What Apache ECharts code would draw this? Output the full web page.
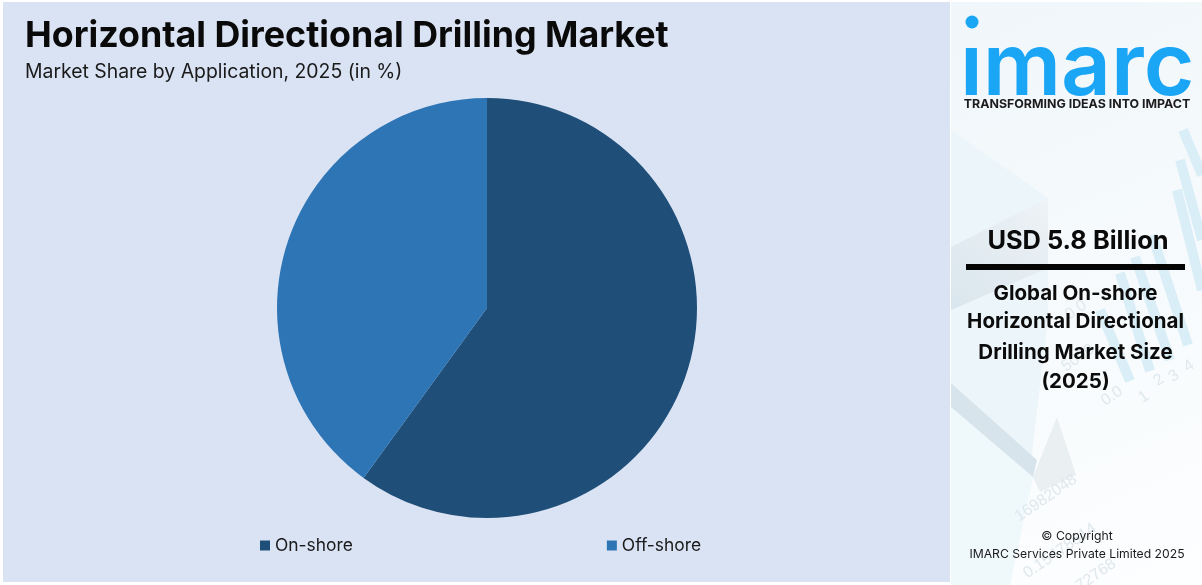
<!DOCTYPE html>
<html>
<head>
<meta charset="utf-8">
<title>Horizontal Directional Drilling Market</title>
<style>
  html, body { margin: 0; padding: 0; background: #fff; }
  #main { width: 1202px; height: 585px; }
</style>
<script src="https://cdn.jsdelivr.net/npm/echarts@6/dist/echarts.min.js"></script>
</head>
<body>
<div id="main"></div>
<script>
var categories = ['On-shore', 'Off-shore'];
var shares = [60, 40];
var colors = ['#1f4e79', '#2e75b6'];

var titleText = 'Horizontal Directional Drilling Market';
var subtitleText = 'Market Share by Application, 2025 (in %)';
var sideValue = 'USD 5.8 Billion';
var sideLines = ['Global On-shore', 'Horizontal Directional', 'Drilling Market Size', '(2025)'];
var sideLineY = [293, 321, 352, 381];
var copyLines = ['© Copyright', 'IMARC Services Private Limited 2025'];
var copyLineY = [536, 554];

var chart = echarts.init(document.getElementById('main'));

// faint picture behind the side panel: slanted bars and washed out numbers
var deco = [];
[[1130, 381, 1100, 310], [1150, 371, 1120, 273], [1170, 360, 1135, 257], [1188, 345, 1152, 235], [1202, 290, 1177, 190], [1202, 240, 1180, 160], [1202, 175, 1183, 130]].forEach(function (b) {
  deco.push({
    type: 'line', z: 1,
    shape: { x1: b[0], y1: b[1], x2: b[2], y2: b[3] },
    style: { stroke: '#d9eef7', lineWidth: 10 }
  });
});
[['0.0', 1112, 396], ['1', 1144, 397], ['2', 1159, 380], ['3', 1174, 376], ['4', 1189, 366], ['5000', 1078, 358], ['0.0', 1076, 310], ['16982048', 1046, 498], ['0.15478514', 1060, 551], ['72768', 1096, 575]].forEach(function (n) {
  deco.push({
    type: 'text', z: 1, x: n[1], y: n[2], rotation: 0.6,
    style: { text: n[0], font: '16px "Liberation Sans", sans-serif', fill: '#dfe8ec', align: 'center', verticalAlign: 'middle' }
  });
});

var sideText = [];
sideLines.forEach(function (t, i) {
  sideText.push({
    type: 'text', z: 5, x: 1075.5, y: sideLineY[i] + 1,
    style: { text: t, font: '700 20.5px Inter, sans-serif', fill: '#0c0c0c', align: 'center', verticalAlign: 'middle' }
  });
});
copyLines.forEach(function (t, i) {
  sideText.push({
    type: 'text', z: 5, x: 1077, y: copyLineY[i],
    style: { text: t, font: '12.2px Inter, sans-serif', fill: '#1a1a1a', align: 'center', verticalAlign: 'middle' }
  });
});

chart.setOption({
  animation: false,
  backgroundColor: '#ffffff',
  title: [
    { text: titleText, left: 25, top: 18, padding: 0, textStyle: { fontFamily: 'Inter', fontSize: 35.8, fontWeight: 700, color: '#0a0a0a' } },
    { text: subtitleText, left: 25, top: 63, padding: 0, textStyle: { fontFamily: 'Inter', fontSize: 19.4, fontWeight: 400, color: '#1a1a1a' } }
  ],
  legend: {
    left: 260, top: 537, padding: 0, itemWidth: 10, itemHeight: 10, itemGap: 254,
    icon: 'rect',
    data: categories,
    textStyle: { fontFamily: 'Inter', fontSize: 17.4, color: '#1a1a1a' }
  },
  color: colors,
  series: [{
    type: 'pie',
    center: [487, 308],
    radius: [0, 210],
    startAngle: 90,
    clockwise: true,
    silent: true,
    label: { show: false },
    labelLine: { show: false },
    data: categories.map(function (c, i) { return { name: c, value: shares[i] }; })
  }],
  graphic: [
    { type: 'rect', z: -2, shape: { x: 3, y: 2, width: 947, height: 580 }, style: { fill: '#dae3f3' } },
    { type: 'rect', z: 0, shape: { x: 951, y: 2, width: 251, height: 583 },
      style: { fill: new echarts.graphic.LinearGradient(0, 0, 1, 1, [
        { offset: 0, color: '#f0f6fa' }, { offset: 0.45, color: '#f6fafc' }, { offset: 1, color: '#fdfeff' }
      ]) } },
    { type: 'polygon', z: 1, shape: { points: [[951, 130], [1048, 198], [1048, 320], [1030, 470], [951, 385]] }, style: { fill: '#ecf6fa' } },
    { type: 'polygon', z: 1, shape: { points: [[951, 405], [1033, 477], [1010, 585], [951, 585]] }, style: { fill: '#eff8fb' } },
    { type: 'polygon', z: 1, shape: { points: [[951, 247], [1048, 198], [1048, 268], [951, 310]] },
      style: { fill: new echarts.graphic.LinearGradient(0, 1, 1, 0, [
        { offset: 0, color: '#d9e5ed' }, { offset: 1, color: '#eef3f6' }
      ]) } },
    { type: 'polygon', z: 1, shape: { points: [[951, 383], [1037, 460], [1033, 477], [951, 407]] }, style: { fill: '#d8e4ec' } },
    { type: 'polygon', z: 1, shape: { points: [[1057, 417], [1076, 475], [1040, 492], [1033, 477]] }, style: { fill: '#eaeff2' } }
  ].concat(deco).concat([
    { type: 'circle', z: 5, shape: { cx: 972, cy: 22, r: 6.5 }, style: { fill: '#1ba6f5' } },
    { type: 'text', z: 5, x: 960, y: 69,
      style: { text: 'ımarc', font: '600 87px Inter, sans-serif', fill: '#1ba6f5', verticalAlign: 'middle' } },
    { type: 'text', z: 5, x: 1077, y: 104,
      style: { text: 'TRANSFORMING IDEAS INTO IMPACT', font: '700 12.4px Inter, sans-serif', fill: '#1c1c1c', align: 'center', verticalAlign: 'middle' } },
    { type: 'text', z: 5, x: 1078, y: 241,
      style: { text: sideValue, font: '700 25.4px Inter, sans-serif', fill: '#0a0a0a', align: 'center', verticalAlign: 'middle' } },
    { type: 'rect', z: 5, shape: { x: 966, y: 264, width: 219, height: 6 }, style: { fill: '#050505' } }
  ]).concat(sideText)
});
</script>
</body>
</html>
